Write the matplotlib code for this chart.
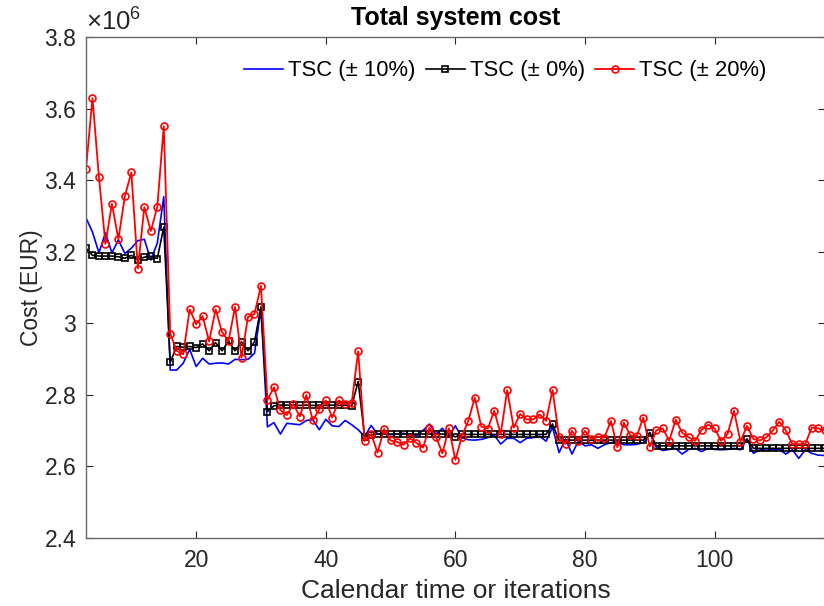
import matplotlib
matplotlib.use("Agg")
import matplotlib.pyplot as plt
from matplotlib.ticker import FuncFormatter

plt.rcParams['font.family'] = ['Liberation Sans', 'DejaVu Sans']
plt.rcParams['mathtext.fontset'] = 'custom'
plt.rcParams['mathtext.rm'] = 'Liberation Sans'
plt.rcParams['mathtext.default'] = 'regular'

iterations = list(range(3, 118))

tsc_20 = [3.432, 3.630, 3.408, 3.222, 3.334, 3.235, 3.356, 3.422, 3.153, 3.325, 3.258, 3.325, 3.551,
          2.971, 2.923, 2.913, 3.039, 2.997, 3.020, 2.949, 3.039, 2.975, 2.950, 3.046, 2.904, 3.018, 3.026, 3.105,
          2.785, 2.821, 2.757, 2.743, 2.774, 2.739, 2.799, 2.728, 2.759, 2.784, 2.736, 2.784, 2.774, 2.776, 2.922,
          2.670, 2.690, 2.638, 2.704, 2.672, 2.668, 2.660, 2.678, 2.665, 2.652, 2.708, 2.683, 2.636, 2.706, 2.618,
          2.683, 2.727, 2.792, 2.711, 2.705, 2.755, 2.690, 2.813, 2.708, 2.746, 2.731, 2.731, 2.745, 2.727, 2.813,
          2.683, 2.662, 2.699, 2.671, 2.699, 2.676, 2.683, 2.680, 2.727, 2.653, 2.722, 2.686, 2.684, 2.736, 2.655,
          2.700, 2.706, 2.671, 2.730, 2.694, 2.681, 2.671, 2.702, 2.716, 2.706, 2.671, 2.690, 2.755, 2.669, 2.713,
          2.676, 2.672, 2.681, 2.700, 2.725, 2.700, 2.662, 2.662, 2.662, 2.708, 2.706, 2.700]

tsc_0 = [3.210, 3.190, 3.188, 3.188, 3.188, 3.186, 3.182, 3.190, 3.178, 3.185, 3.187, 3.181, 3.269,
         2.891, 2.935, 2.933, 2.935, 2.932, 2.942, 2.923, 2.946, 2.923, 2.950, 2.923, 2.948, 2.923, 2.948, 3.046,
         2.753, 2.769, 2.771, 2.771, 2.771, 2.770, 2.771, 2.770, 2.771, 2.770, 2.771, 2.770, 2.771, 2.768, 2.837,
         2.683, 2.688, 2.690, 2.690, 2.690, 2.690, 2.690, 2.690, 2.690, 2.690, 2.690, 2.690, 2.690, 2.690, 2.682,
         2.689, 2.689, 2.689, 2.689, 2.689, 2.689, 2.689, 2.689, 2.689, 2.689, 2.689, 2.689, 2.689, 2.689, 2.718,
         2.672, 2.673, 2.673, 2.673, 2.673, 2.673, 2.673, 2.673, 2.673, 2.673, 2.673, 2.673, 2.673, 2.673, 2.694,
         2.657, 2.657, 2.657, 2.657, 2.657, 2.657, 2.657, 2.657, 2.657, 2.657, 2.657, 2.657, 2.657, 2.657, 2.676,
         2.650, 2.650, 2.650, 2.650, 2.650, 2.650, 2.650, 2.650, 2.650, 2.650, 2.650, 2.650]

tsc_10 = [3.295, 3.255, 3.197, 3.253, 3.197, 3.233, 3.195, 3.210, 3.231, 3.235, 3.177, 3.224, 3.354,
          2.869, 2.869, 2.888, 2.927, 2.879, 2.902, 2.886, 2.888, 2.889, 2.886, 2.899, 2.898, 2.899, 2.916, 3.040,
          2.710, 2.722, 2.690, 2.720, 2.718, 2.716, 2.728, 2.730, 2.702, 2.731, 2.713, 2.711, 2.728, 2.716, 2.702,
          2.683, 2.714, 2.690, 2.692, 2.688, 2.690, 2.692, 2.688, 2.686, 2.700, 2.718, 2.690, 2.706, 2.683, 2.713,
          2.680, 2.674, 2.673, 2.675, 2.680, 2.687, 2.662, 2.678, 2.678, 2.666, 2.678, 2.680, 2.684, 2.670, 2.709,
          2.638, 2.676, 2.634, 2.671, 2.657, 2.660, 2.650, 2.660, 2.666, 2.668, 2.660, 2.660, 2.661, 2.666, 2.694,
          2.653, 2.644, 2.647, 2.650, 2.634, 2.647, 2.650, 2.641, 2.650, 2.647, 2.646, 2.647, 2.650, 2.646, 2.676,
          2.636, 2.646, 2.645, 2.646, 2.647, 2.634, 2.646, 2.622, 2.646, 2.636, 2.631, 2.630]

y_ticks = [2.4, 2.6, 2.8, 3.0, 3.2, 3.4, 3.6, 3.8]
x_ticks = [20, 40, 60, 80, 100]

fig = plt.figure(figsize=(8.24, 6.06), dpi=100)
ax = fig.add_axes([86 / 824, (606 - 537.7) / 606, 739.5 / 824, (537.7 - 37.3) / 606])

ax.plot(iterations, tsc_10, color='#0000ff', lw=1.2, label='TSC (± 10%)')
ax.plot(iterations, tsc_0, color='black', lw=1.2, marker='s', ms=4.5, mfc='none', mew=1.2,
        label='TSC (± 0%)')
ax.plot(iterations, tsc_20, color='#ff0000', lw=1.3, marker='o', ms=5, mfc='none', mew=1.2,
        label='TSC (± 20%)')

ax.set_xlim(3, 3 + 739.5 / 6.48)
ax.set_ylim(2.4, 3.8)
ax.set_xticks(x_ticks)
ax.set_yticks(y_ticks)
ax.yaxis.set_major_formatter(FuncFormatter(lambda v, p: f"{v:g}"))
ax.tick_params(direction='in', length=5, width=0.8, color='#262626', labelsize=16.5,
               top=True, right=True, labelcolor='#262626')
ax.tick_params(axis='x', pad=8)
ax.tick_params(axis='y', pad=7)
for s in ax.spines.values():
    s.set_color('#666666')
    s.set_linewidth(1.0)

ax.text(0.0, 1.004, r'$\times\mathregular{10^{6}}$', transform=ax.transAxes, fontsize=18.5,
        color='#262626', ha='left', va='bottom')
ax.set_title('Total system cost', fontsize=18, fontweight='bold', pad=9)
ax.set_xlabel('Calendar time or iterations', fontsize=19, color='#262626', labelpad=5)
ax.set_ylabel('Cost (EUR)', fontsize=16.5, color='#262626', labelpad=1)

leg = ax.legend(loc='upper center', bbox_to_anchor=(0.567, 0.98), ncol=3, frameon=False,
                fontsize=15.8, handlelength=1.8, columnspacing=0.45, handletextpad=0.22,
                borderaxespad=0.2)

fig.savefig('out.png', dpi=100)
